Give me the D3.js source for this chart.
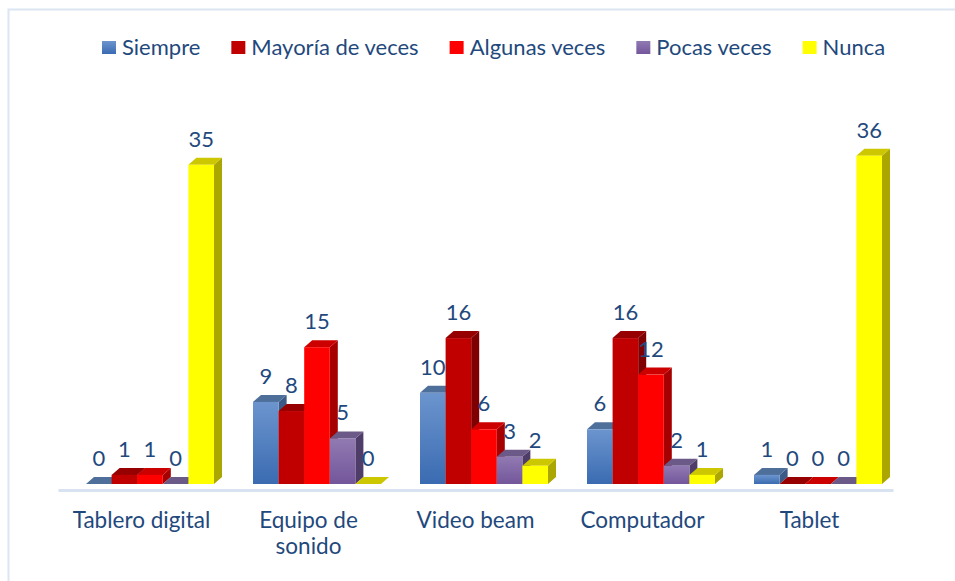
<!DOCTYPE html>
<html>
<head>
<meta charset="utf-8">
<script src="https://cdn.jsdelivr.net/npm/d3@7"></script>
<style>
    html, body { margin: 0; padding: 0; background: #fff; }
    svg { display: block; }
    text { font-family: Lato, "Open Sans", sans-serif; }
</style>
</head>
<body>
<div id="chart"></div>
<script>
// data
const categories = ["Tablero digital", "Equipo de sonido", "Video beam", "Computador", "Tablet"];
const tickLines = [["Tablero digital"], ["Equipo de", "sonido"], ["Video beam"], ["Computador"], ["Tablet"]];
const seriesNames = ["Siempre", "Mayoría de veces", "Algunas veces", "Pocas veces", "Nunca"];
const siempre = [0, 9, 10, 6, 1];
const mayoria = [1, 8, 16, 16, 0];
const algunas = [1, 15, 6, 12, 0];
const pocas = [0, 5, 3, 2, 0];
const nunca = [35, 0, 2, 1, 36];
const seriesValues = [siempre, mayoria, algunas, pocas, nunca];

// face colours per series: front (top/bottom for gradient), top face, side face
const faces = [
    { front: ["#6C95CE", "#3A6BB1"], top: "#4F6F9B", side: "#3C5A86" },
    { front: ["#C00000", "#C00000"], top: "#970000", side: "#7E0000" },
    { front: ["#FF0000", "#FF0000"], top: "#CD0000", side: "#A60000" },
    { front: ["#917AB2", "#73569B"], top: "#6B5A88", side: "#4E3D69" },
    { front: ["#FFFF00", "#FFFF00"], top: "#CCC700", side: "#ACA700" }
];

const width = 955, height = 581;
const base = 484;      // floor of the bars
const axisY = 490;     // light axis line
const depthX = 8, depthY = 7;
const textColor = "#1F497D";

const svg = d3.select("#chart").append("svg")
    .attr("width", width)
    .attr("height", height);

const defs = svg.append("defs");
faces.forEach((f, i) => {
    const g = defs.append("linearGradient")
        .attr("id", "grad" + i)
        .attr("x1", 0).attr("y1", 0).attr("x2", 0).attr("y2", 1);
    g.append("stop").attr("offset", "0%").attr("stop-color", f.front[0]);
    g.append("stop").attr("offset", "100%").attr("stop-color", f.front[1]);
});

// outer frame (only top and left edges fall inside the picture)
svg.append("rect")
    .attr("x", 8.5).attr("y", 9.5)
    .attr("width", 1000).attr("height", 700)
    .attr("fill", "none")
    .attr("stroke", "#DCE6F2")
    .attr("stroke-width", 2);

// scales
const x0 = d3.scaleBand().domain(categories).range([58, 893]);
const x1 = d3.scaleBand().domain(seriesNames).range([28, 28 + 5 * 25.6]);
const y = d3.scaleLinear().domain([0, 36]).range([base, base - 36 * 9.12]);

// category axis
const axis = svg.append("g")
    .attr("transform", `translate(0,${axisY})`)
    .call(d3.axisBottom(x0).tickSize(0).tickFormat(""));
axis.select(".domain")
    .attr("stroke", "#D9E2F1")
    .attr("stroke-width", 3);
axis.selectAll(".tick").each(function(d, i) {
    const t = d3.select(this).append("text")
        .attr("fill", textColor)
        .attr("font-size", 22.5)
        .attr("text-anchor", "middle");
    tickLines[i].forEach((line, j) => {
        t.append("tspan")
            .attr("x", 0)
            .attr("y", 38 + j * 26)
            .text(line);
    });
});

// bars, drawn left to right so each front face covers the previous side face
const bars = svg.append("g");
categories.forEach((cat, ci) => {
    seriesNames.forEach((s, si) => {
        const v = seriesValues[si][ci];
        const f = faces[si];
        const x = x0(cat) + x1(s);
        const w = x1.bandwidth();
        const yt = y(v);
        const g = bars.append("g");
        if (v > 0) {
            g.append("path")
                .attr("d", `M${x + w},${yt} L${x + w + depthX},${yt - depthY} L${x + w + depthX},${base - depthY} L${x + w},${base} Z`)
                .attr("fill", f.side);
        }
        g.append("path")
            .attr("d", `M${x},${yt} L${x + depthX},${yt - depthY} L${x + w + depthX},${yt - depthY} L${x + w},${yt} Z`)
            .attr("fill", f.top);
        if (v > 0) {
            g.append("rect")
                .attr("x", x).attr("y", yt)
                .attr("width", w).attr("height", base - yt)
                .attr("fill", `url(#grad${si})`);
        }
    });
});

// value labels
const labels = svg.append("g");
categories.forEach((cat, ci) => {
    seriesNames.forEach((s, si) => {
        const v = seriesValues[si][ci];
        labels.append("text")
            .attr("x", x0(cat) + x1(s) + x1.bandwidth() / 2)
            .attr("y", y(v) - 18)
            .attr("text-anchor", "middle")
            .attr("font-size", 22)
            .attr("fill", textColor)
            .text(v);
    });
});

// legend
const legend = svg.append("g");
let lx = 102;
seriesNames.forEach((s, i) => {
    legend.append("rect")
        .attr("x", lx).attr("y", 41)
        .attr("width", 14).attr("height", 13)
        .attr("fill", `url(#grad${i})`);
    const t = legend.append("text")
        .attr("x", lx + 20).attr("y", 55)
        .attr("font-size", 22)
        .attr("fill", textColor)
        .text(s);
    lx += 20 + t.node().getComputedTextLength() + 31;
});
</script>
</body>
</html>
